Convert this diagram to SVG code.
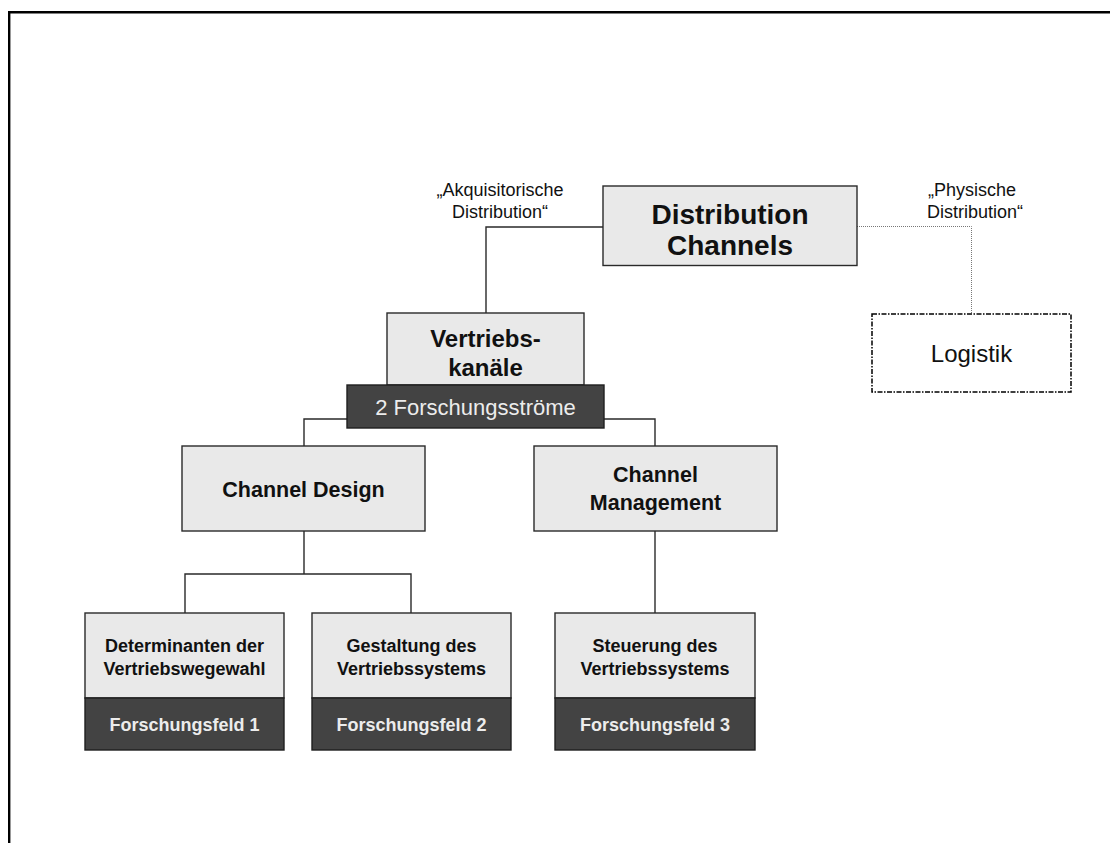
<svg xmlns="http://www.w3.org/2000/svg" width="1110" height="843" viewBox="0 0 1110 843">
  <style>
    .frame { fill: none; stroke: #000; stroke-width: 2.4; }
    .box { fill: #e9e9e9; stroke: #2a2a2a; stroke-width: 1.4; }
    .dark { fill: #434343; stroke: #1e1e1e; stroke-width: 1.4; }
    .ghost { fill: #fff; stroke: #000; stroke-width: 1.5; stroke-dasharray: 5 1.5 1.5 1.5; }
    .link { fill: none; stroke: #2a2a2a; stroke-width: 1.4; }
    .dotted { fill: none; stroke: #777; stroke-width: 1; stroke-dasharray: 1 1; }
    text { font-family: "Liberation Sans", Arial, sans-serif; text-anchor: middle; fill: #111; }
    .b { font-weight: bold; }
    .inv { fill: #ececec; }
  </style>

  <!-- outer frame (top and left edges) -->
  <path class="frame" d="M9.2,843 V12.2 H1110"/>

  <!-- connectors -->
  <g id="connectors">
    <path class="link" d="M603,227 H486 V313"/>
    <path class="dotted" d="M857,226.5 H971.5 V314"/>
    <path class="link" d="M347,419 H304 V446"/>
    <path class="link" d="M604,419 H655 V446"/>
    <path class="link" d="M304,531 V574 M185,613 V574 H411 V613"/>
    <path class="link" d="M655,531 V613"/>
  </g>

  <!-- side labels -->
  <g id="label-akquisitorisch">
    <text x="500" y="196" font-size="18">„Akquisitorische</text>
    <text x="500" y="218" font-size="18">Distribution“</text>
  </g>
  <g id="label-physisch">
    <text x="972" y="196" font-size="18">„Physische</text>
    <text x="975" y="218" font-size="18">Distribution“</text>
  </g>

  <g id="distribution-channels">
    <rect class="box" x="603" y="186" width="254" height="79.5"/>
    <text class="b" x="730" y="224" font-size="28">Distribution</text>
    <text class="b" x="730" y="255" font-size="28">Channels</text>
  </g>

  <g id="logistik">
    <rect class="ghost" x="872" y="314" width="199" height="78"/>
    <text x="971.5" y="362" font-size="24">Logistik</text>
  </g>

  <g id="vertriebskanaele">
    <rect class="box" x="387" y="313" width="197" height="72"/>
    <text class="b" x="485.5" y="347" font-size="24">Vertriebs-</text>
    <text class="b" x="485.5" y="376" font-size="24">kanäle</text>
    <rect class="dark" x="347" y="385" width="257" height="43"/>
    <text class="inv" x="475.5" y="415" font-size="22">2 Forschungsströme</text>
  </g>

  <g id="channel-design">
    <rect class="box" x="182" y="446" width="243" height="85"/>
    <text class="b" x="303.5" y="497" font-size="21.5">Channel Design</text>
  </g>

  <g id="channel-management">
    <rect class="box" x="534" y="446" width="243" height="85"/>
    <text class="b" x="655.5" y="482" font-size="21.5">Channel</text>
    <text class="b" x="655.5" y="510" font-size="21.5">Management</text>
  </g>

  <g id="forschungsfeld-1">
    <rect class="box" x="85" y="613" width="199" height="85"/>
    <text class="b" x="184.5" y="652" font-size="18">Determinanten der</text>
    <text class="b" x="184.5" y="675" font-size="18">Vertriebswegewahl</text>
    <rect class="dark" x="85" y="698" width="199" height="52"/>
    <text class="b inv" x="184.5" y="731" font-size="18">Forschungsfeld 1</text>
  </g>

  <g id="forschungsfeld-2">
    <rect class="box" x="312" y="613" width="199" height="85"/>
    <text class="b" x="411.5" y="652" font-size="18">Gestaltung des</text>
    <text class="b" x="411.5" y="675" font-size="18">Vertriebssystems</text>
    <rect class="dark" x="312" y="698" width="199" height="52"/>
    <text class="b inv" x="411.5" y="731" font-size="18">Forschungsfeld 2</text>
  </g>

  <g id="forschungsfeld-3">
    <rect class="box" x="555" y="613" width="200" height="85"/>
    <text class="b" x="655" y="652" font-size="18">Steuerung des</text>
    <text class="b" x="655" y="675" font-size="18">Vertriebssystems</text>
    <rect class="dark" x="555" y="698" width="200" height="52"/>
    <text class="b inv" x="655" y="731" font-size="18">Forschungsfeld 3</text>
  </g>
</svg>
